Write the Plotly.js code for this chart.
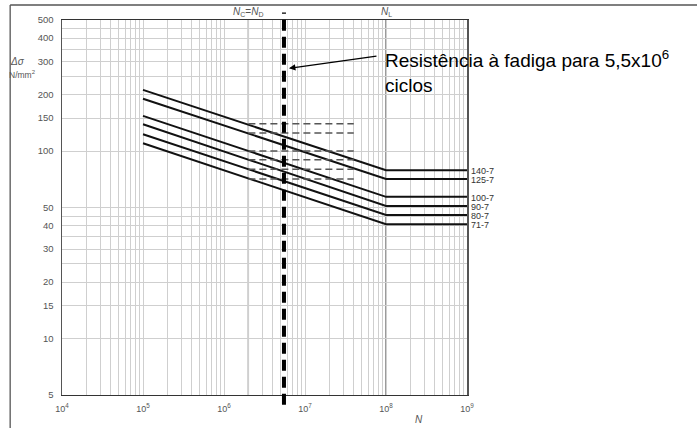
<!DOCTYPE html>
<html>
<head>
<meta charset="utf-8">
<script src="https://cdn.plot.ly/plotly-3.0.1.min.js"></script>
<style>
html,body{margin:0;padding:0;background:#fff;}
#chart{width:697px;height:428px;}
</style>
</head>
<body>
<div id="chart"></div>
<script>
// ---- data ----
const categories = ['140-7', '125-7', '100-7', '90-7', '80-7', '71-7'];
const detailCategory = [140, 125, 100, 90, 80, 71];          // dashed reference levels
const stressAtStart = [212, 190, 154, 139, 123, 110];         // at N = 1e5
const stressAtKnee = [79, 71, 57, 51, 45.6, 40.7];            // at N = 1e8 (and beyond)
const N_START = 1e5, N_KNEE = 1e8, N_END = 1e9;
const N_DASH_FROM = 2e6, N_DASH_TO = 4e7;
const N_C = 2e6, N_L = 1e8, N_FAT = 5.5e6;
const ARROW_TARGET_STRESS = 274;

const yTickVals = [5, 10, 15, 20, 25, 30, 35, 40, 45, 50, 100, 150, 200, 250, 300, 350, 400, 450, 500];
const yTickText = ['5', '10', '15', '20', '', '30', '', '40', '', '50', '100', '150', '200', '', '300', '', '400', '', '500'];
const xDecades = [4, 5, 6, 7, 8, 9];

// x grid: 1..9 in every decade, labels only on decades
const xTickVals = [], xTickText = [];
xDecades.forEach(function (d, i) {
  const mults = (i === xDecades.length - 1) ? [1] : [1, 2, 3, 4, 5, 6, 7, 8, 9];
  mults.forEach(function (m) {
    xTickVals.push(m * Math.pow(10, d));
    xTickText.push(m === 1 ? '10<sup>' + d + '</sup>' : '');
  });
});

const FONT = 'Liberation Sans, Arial, sans-serif';
const traces = [];

// S-N curves
categories.forEach(function (c, i) {
  traces.push({
    type: 'scatter', mode: 'lines',
    x: [N_START, N_KNEE, N_END],
    y: [stressAtStart[i], stressAtKnee[i], stressAtKnee[i]],
    line: {color: '#111', width: 2},
    hoverinfo: 'skip', name: c
  });
});
// dashed detail-category levels
detailCategory.forEach(function (v) {
  traces.push({
    type: 'scatter', mode: 'lines',
    x: [N_DASH_FROM, N_DASH_TO],
    y: [v, v],
    line: {color: '#555', width: 1.5, dash: '7px,4px'},
    hoverinfo: 'skip'
  });
});

const shapes = [
  {type: 'line', xref: 'x', yref: 'paper', x0: N_C, x1: N_C, y0: 0, y1: 1, layer: 'below',
   line: {color: '#666', width: 1.3}},
  {type: 'line', xref: 'x', yref: 'paper', x0: N_L, x1: N_L, y0: 0, y1: 1, layer: 'below',
   line: {color: '#666', width: 1.3}},
  {type: 'line', xref: 'x', yref: 'paper', x0: N_FAT, x1: N_FAT, y0: -0.026, y1: 1.02,
   line: {color: '#000', width: 4, dash: '11px,6px'}},
  // outer frame (top and left edges visible)
  {type: 'line', xref: 'paper', yref: 'paper', x0: -0.128, x1: 1.6, y0: 1.04, y1: 1.04,
   line: {color: '#555', width: 1.3}},
  {type: 'line', xref: 'paper', yref: 'paper', x0: -0.128, x1: -0.128, y0: -0.09, y1: 1.04,
   line: {color: '#555', width: 1.3}}
];

const annotations = [
  {xref: 'paper', yref: 'paper', x: 0, xshift: -54, xanchor: 'left', y: 0.888, yanchor: 'middle',
   text: '<i>Δσ</i>', showarrow: false, font: {family: FONT, size: 10, color: '#555'}},
  {xref: 'paper', yref: 'paper', x: 0, xshift: -55, xanchor: 'left', y: 0.856, yanchor: 'middle',
   text: 'N/mm<sup>2</sup>', showarrow: false, font: {family: FONT, size: 8.5, color: '#555'}},
  {xref: 'x', yref: 'paper', x: Math.log10(N_C), y: 1, yanchor: 'bottom', yshift: 0,
   text: '<i>N</i><sub>C</sub>=<i>N</i><sub>D</sub>', showarrow: false, font: {family: FONT, size: 10, color: '#555'}},
  {xref: 'x', yref: 'paper', x: Math.log10(N_L), y: 1, yanchor: 'bottom', yshift: 0,
   text: '<i>N</i><sub>L</sub>', showarrow: false, font: {family: FONT, size: 10, color: '#555'}},
  {xref: 'paper', yref: 'paper', x: 0.896, y: 0, yanchor: 'top', yshift: -17,
   text: '<i>N</i>', showarrow: false, font: {family: FONT, size: 10, color: '#555'}},
  {xref: 'paper', yref: 'paper', x: 0.793, xanchor: 'left', y: 1, yanchor: 'top', yshift: -25,
   align: 'left',
   text: 'Resistência à fadiga para 5,5x10<sup>6</sup><br>ciclos', showarrow: false,
   font: {family: FONT, size: 19, color: '#000'}},
  {xref: 'x', yref: 'y', x: Math.log10(N_FAT), y: Math.log10(ARROW_TARGET_STRESS),
   text: '', showarrow: true, ax: 94, ay: -13, arrowhead: 2, arrowsize: 1, arrowwidth: 1.3,
   arrowcolor: '#000', standoff: 5}
];
categories.forEach(function (c, i) {
  annotations.push({
    xref: 'paper', yref: 'y', x: 1, xanchor: 'left', xshift: 2,
    y: Math.log10(stressAtKnee[i]), yanchor: 'middle', yshift: -1,
    text: c, showarrow: false, font: {family: FONT, size: 9, color: '#333'}
  });
});

const layout = {
  width: 697, height: 428,
  margin: {l: 62, r: 230, t: 20, b: 33, pad: 0},
  paper_bgcolor: '#fff', plot_bgcolor: '#fff',
  showlegend: false,
  font: {family: FONT, size: 9.5, color: '#555'},
  xaxis: {
    type: 'log', range: [4, 9],
    tickmode: 'array', tickvals: xTickVals, ticktext: xTickText,
    ticks: '', ticklabelstandoff: 5,
    tickfont: {family: FONT, size: 9, color: '#555'},
    showgrid: true, gridcolor: '#cfcfcf', gridwidth: 1,
    showline: true, linecolor: '#333', linewidth: 1.3, mirror: true,
    zeroline: false, fixedrange: true
  },
  yaxis: {
    type: 'log', range: [Math.log10(5), Math.log10(500)],
    tickmode: 'array', tickvals: yTickVals, ticktext: yTickText,
    ticks: '', ticklabelstandoff: 5,
    tickfont: {family: FONT, size: 9.5, color: '#555'},
    showgrid: true, gridcolor: '#cfcfcf', gridwidth: 1,
    showline: true, linecolor: '#555', linewidth: 1.5, mirror: true,
    zeroline: false, fixedrange: true
  },
  shapes: shapes,
  annotations: annotations,
  hovermode: false
};

Plotly.newPlot('chart', traces, layout, {displayModeBar: false, staticPlot: true});
</script>
</body>
</html>
